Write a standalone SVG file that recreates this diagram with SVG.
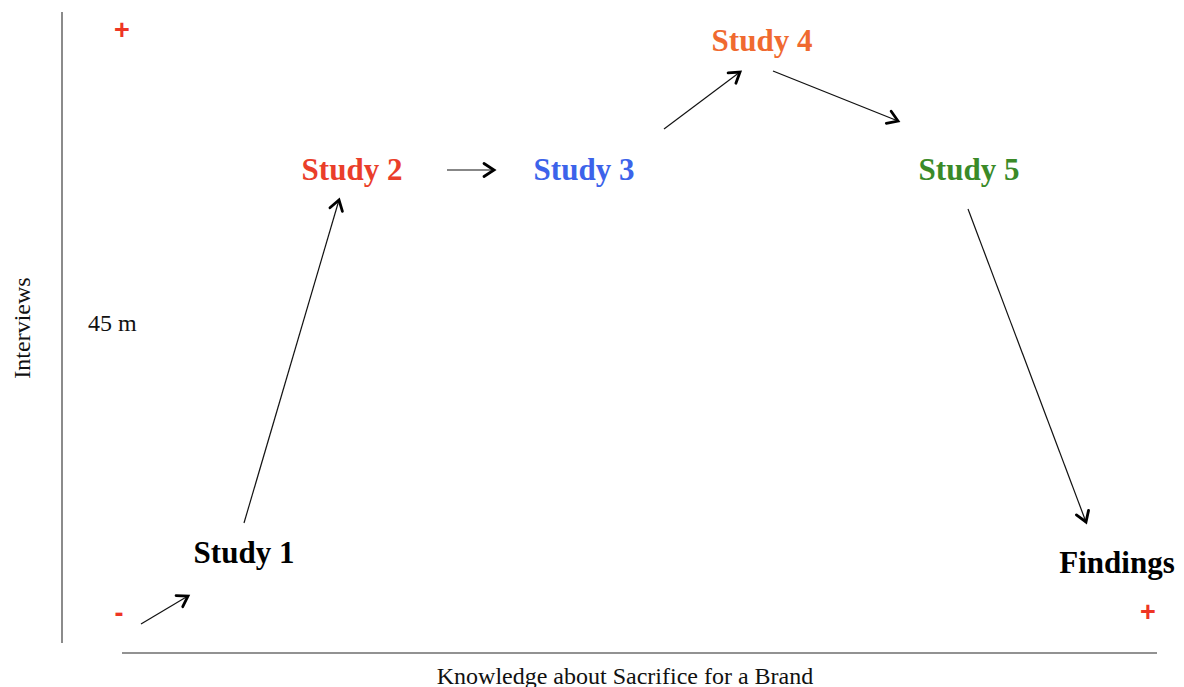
<svg xmlns="http://www.w3.org/2000/svg" width="1184" height="687" viewBox="0 0 1184 687">
  <style>
    .axis { stroke: #6e6e6e; stroke-width: 1.6; fill: none; }
    .conn { stroke: #111; stroke-width: 1.2; fill: none; marker-end: url(#open-arrow); }
    .label { font-family: "Liberation Serif", "Times New Roman", serif; font-weight: bold; font-size: 31px; }
    .axis-text { font-family: "Liberation Serif", "Times New Roman", serif; font-size: 24px; fill: #111; }
    .sign { font-family: "Liberation Sans", Arial, sans-serif; font-weight: bold; font-size: 27px; fill: #ee3524; }
  </style>
  <defs>
    <marker id="open-arrow" markerUnits="userSpaceOnUse" markerWidth="20" markerHeight="20" viewBox="-14 -10 18 20" refX="0" refY="0" orient="auto">
      <path d="M-10,-6.5 L0,0 L-10,6.5" fill="none" stroke="#000" stroke-width="2.8" stroke-linecap="round" stroke-linejoin="miter"/>
    </marker>
  </defs>

  <rect width="1184" height="687" fill="#fff"/>

  <!-- axes -->
  <g id="axes">
    <line class="axis" x1="62" y1="12" x2="62" y2="643"/>
    <line class="axis" x1="122" y1="653" x2="1157" y2="653"/>
    <text class="axis-text" transform="translate(30,328) rotate(-90)" text-anchor="middle">Interviews</text>
    <text class="axis-text" x="625" y="684" text-anchor="middle">Knowledge about Sacrifice for a Brand</text>
    <text class="axis-text" x="88" y="331">45 m</text>
    <text class="sign" x="122" y="39" text-anchor="middle">+</text>
    <text class="sign" x="119" y="622" text-anchor="middle">-</text>
    <text class="sign" x="1148" y="621" text-anchor="middle">+</text>
  </g>

  <!-- stages -->
  <g id="study1"><text class="label" x="244" y="563" text-anchor="middle" fill="#000">Study 1</text></g>
  <g id="study2"><text class="label" x="352" y="180" text-anchor="middle" fill="#ea3e2a">Study 2</text></g>
  <g id="study3"><text class="label" x="584" y="180" text-anchor="middle" fill="#3c63ea">Study 3</text></g>
  <g id="study4"><text class="label" x="762" y="51" text-anchor="middle" fill="#f06a30">Study 4</text></g>
  <g id="study5"><text class="label" x="969" y="180" text-anchor="middle" fill="#3a8a28">Study 5</text></g>
  <g id="findings"><text class="label" x="1117" y="573" text-anchor="middle" fill="#000">Findings</text></g>

  <!-- connectors -->
  <g id="connectors">
    <line class="conn" x1="141" y1="624" x2="188" y2="596"/>
    <line class="conn" x1="244" y1="523" x2="339" y2="200"/>
    <line class="conn" x1="447" y1="170" x2="494" y2="170"/>
    <line class="conn" x1="664" y1="129" x2="740" y2="72"/>
    <line class="conn" x1="773" y1="71" x2="898" y2="121"/>
    <line class="conn" x1="968" y1="209" x2="1086" y2="522"/>
  </g>
</svg>
